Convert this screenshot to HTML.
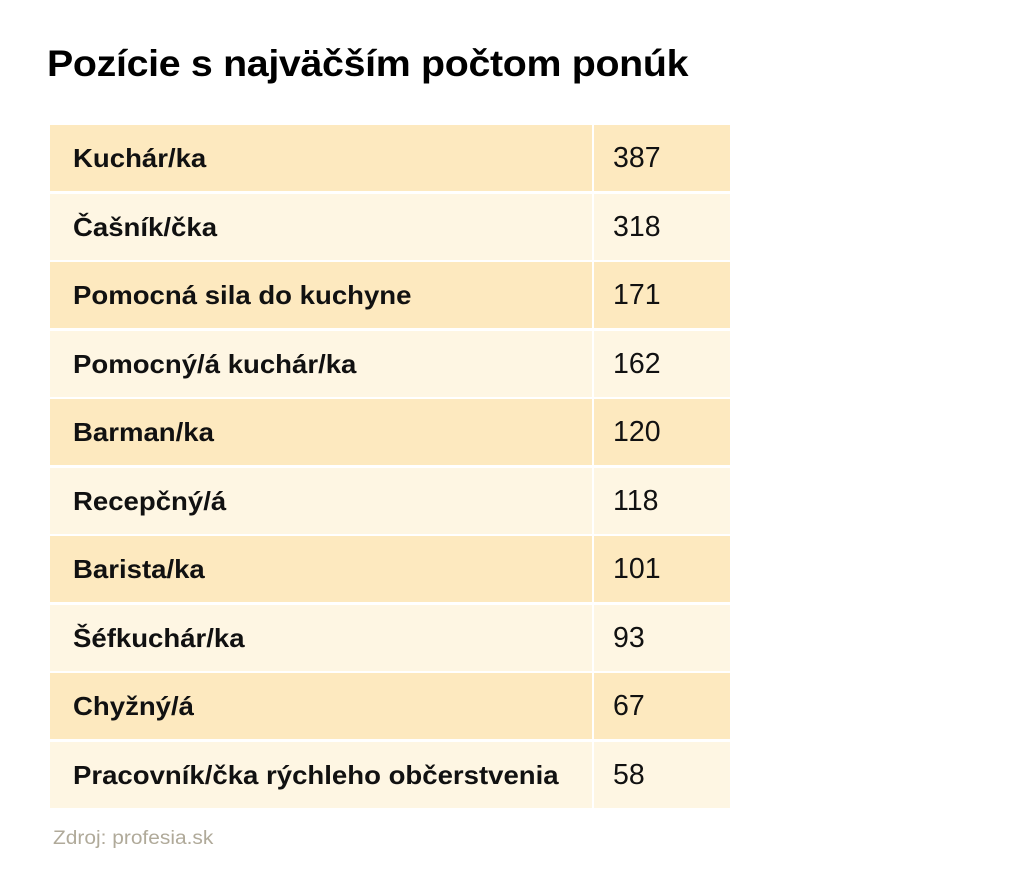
<!DOCTYPE html>
<html><head><meta charset="utf-8"><style>
body{margin:0;width:1024px;height:872px;background:#fff;font-family:"Liberation Sans",sans-serif;position:relative;overflow:hidden}
h1{position:absolute;left:47px;top:43px;margin:0;font-size:37px;font-weight:bold;color:#000;letter-spacing:-0.3px;transform:scaleX(1.063);transform-origin:left top;white-space:nowrap}
.row{position:absolute;left:50px;width:680px;height:66px}
.c1{position:absolute;left:0;top:0;width:542px;height:66px}
.c2{position:absolute;left:544px;top:0;width:136px;height:66px}
.a .c1,.a .c2{background:#fde9bf}
.b .c1,.b .c2{background:#fef6e3}
.c1 span{position:absolute;left:23px;top:18px;font-size:26px;font-weight:bold;color:#111;transform:scaleX(1.06);transform-origin:left top;white-space:nowrap}
.c2 span{position:absolute;left:19px;top:17px;font-size:28.5px;color:#111}
.src{position:absolute;left:53px;top:828px;font-size:19px;color:#b0aa9a;transform:scaleX(1.1);transform-origin:left top;white-space:nowrap}
</style></head><body>
<h1>Pozície s najväčším počtom ponúk</h1>
<div class="row a" style="top:125px"><div class="c1"><span>Kuchár/ka</span></div><div class="c2"><span>387</span></div></div>
<div class="row b" style="top:193.5px"><div class="c1"><span>Čašník/čka</span></div><div class="c2"><span>318</span></div></div>
<div class="row a" style="top:262px"><div class="c1"><span>Pomocná sila do kuchyne</span></div><div class="c2"><span>171</span></div></div>
<div class="row b" style="top:330.5px"><div class="c1"><span>Pomocný/á kuchár/ka</span></div><div class="c2"><span>162</span></div></div>
<div class="row a" style="top:399px"><div class="c1"><span>Barman/ka</span></div><div class="c2"><span>120</span></div></div>
<div class="row b" style="top:467.5px"><div class="c1"><span>Recepčný/á</span></div><div class="c2"><span>118</span></div></div>
<div class="row a" style="top:536px"><div class="c1"><span>Barista/ka</span></div><div class="c2"><span>101</span></div></div>
<div class="row b" style="top:604.5px"><div class="c1"><span>Šéfkuchár/ka</span></div><div class="c2"><span>93</span></div></div>
<div class="row a" style="top:673px"><div class="c1"><span>Chyžný/á</span></div><div class="c2"><span>67</span></div></div>
<div class="row b" style="top:741.5px"><div class="c1"><span>Pracovník/čka rýchleho občerstvenia</span></div><div class="c2"><span>58</span></div></div>
<div class="src">Zdroj: profesia.sk</div>
</body></html>
